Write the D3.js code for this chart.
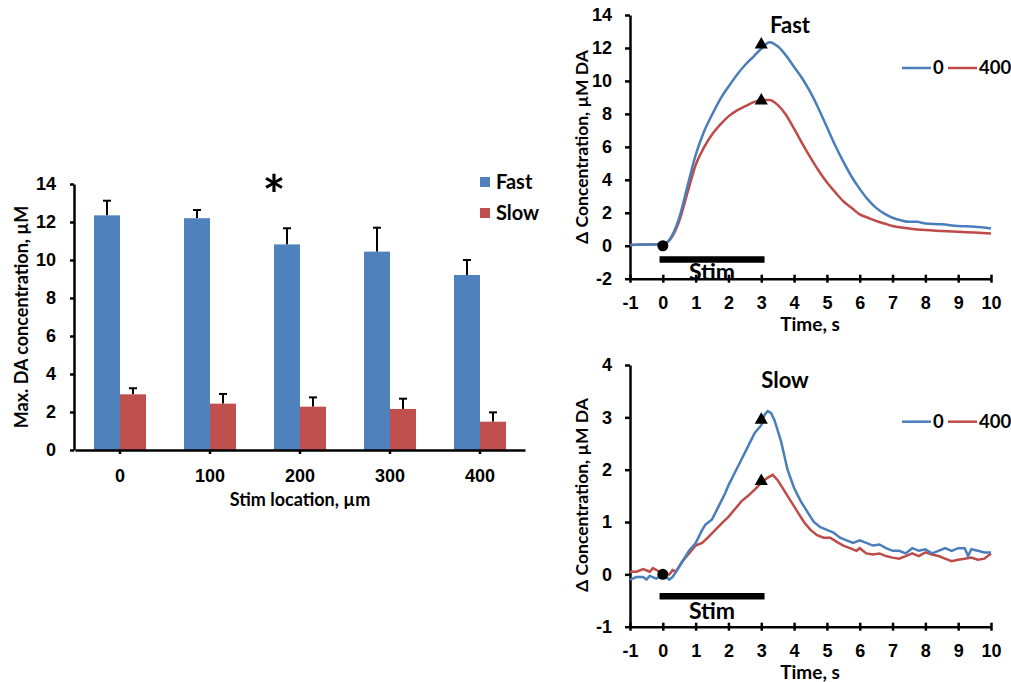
<!DOCTYPE html>
<html>
<head>
<meta charset="utf-8">
<script src="https://cdn.jsdelivr.net/npm/d3@7"></script>
<style>
  body { margin: 0; background: #fff; }
  svg { font-family: Lato, "Open Sans", sans-serif; font-weight: bold; }
  .axis path, .axis line { stroke: #000; stroke-width: 2.5; }
  .axis text { fill: #000; font-weight: bold; }
</style>
</head>
<body>
<svg id="chart" width="1011" height="682"></svg>
<script>
// ---- bar chart data ----
const locations = ["0", "100", "200", "300", "400"];
const fastMax = [12.35, 12.2, 10.82, 10.44, 9.21];
const fastErr = [0.77, 0.43, 0.85, 1.26, 0.79];
const slowMax = [2.93, 2.44, 2.28, 2.16, 1.49];
const slowErr = [0.32, 0.51, 0.49, 0.54, 0.49];
const barTicks = [0, 2, 4, 6, 8, 10, 12, 14];

// ---- Fast traces: [time s, delta uM] ----
const fastZero = [[-1,0.05],[-0.5,0.07],[0,0.1],[0.25,0.5],[0.5,1.7],[0.75,3.6],[1,5.5],[1.25,6.9],[1.5,7.95],
  [1.75,8.9],[2,9.65],[2.25,10.35],[2.5,10.95],[2.75,11.45],[3,11.95],[3.25,12.35],[3.5,12.1],[3.75,11.55],
  [4,10.85],[4.25,10.15],[4.5,9.3],[4.75,8.3],[5,7.2],[5.25,6.1],[5.5,5.1],[5.75,4.2],[6,3.45],[6.25,2.8],
  [6.5,2.3],[6.75,1.95],[7,1.7],[7.25,1.55],[7.5,1.45],[7.75,1.45],[8,1.35],[8.5,1.3],[9,1.2],[9.5,1.15],[10,1.05]];
const fastFar = [[-1,0.05],[-0.5,0.07],[0,0.1],[0.25,0.45],[0.5,1.5],[0.75,3.2],[1,4.9],[1.25,5.95],[1.5,6.75],
  [1.75,7.35],[2,7.85],[2.25,8.2],[2.5,8.45],[2.75,8.7],[3,8.85],[3.25,8.85],[3.5,8.55],[3.75,7.95],[4,7.1],
  [4.25,6.2],[4.5,5.35],[4.75,4.55],[5,3.85],[5.25,3.25],[5.5,2.7],[5.75,2.3],[6,1.9],[6.25,1.7],[6.5,1.5],
  [6.75,1.35],[7,1.2],[7.5,1.05],[8,0.95],[8.5,0.9],[9,0.85],[9.5,0.8],[10,0.75]];

// ---- Slow traces ----
const slowZero = [[-1,-0.1],[-0.8,-0.05],[-0.6,-0.05],[-0.5,-0.1],[-0.4,-0.03],[-0.2,-0.08],[0,0],[0.1,-0.05],
  [0.2,-0.1],[0.3,-0.05],[0.4,0.05],[0.6,0.25],[0.8,0.45],[1,0.6],[1.2,0.85],[1.3,0.95],[1.5,1.05],[1.7,1.3],
  [1.9,1.55],[2,1.7],[2.2,1.95],[2.4,2.2],[2.6,2.45],[2.8,2.7],[3,2.85],[3.1,3.05],[3.2,3.12],[3.3,3.08],
  [3.4,2.95],[3.6,2.55],[3.8,2.0],[4,1.65],[4.2,1.4],[4.4,1.2],[4.6,1.0],[4.8,0.9],[5,0.85],[5.2,0.8],
  [5.4,0.7],[5.6,0.65],[5.8,0.6],[6,0.65],[6.2,0.6],[6.4,0.55],[6.6,0.57],[6.8,0.5],[7,0.45],[7.2,0.45],
  [7.4,0.4],[7.6,0.5],[7.8,0.45],[8,0.48],[8.2,0.4],[8.4,0.45],[8.6,0.5],[8.8,0.45],[9,0.5],[9.2,0.5],
  [9.3,0.35],[9.4,0.48],[9.6,0.45],[9.8,0.42],[10,0.42]];
const slowFar = [[-1,0.05],[-0.8,0.05],[-0.6,0.1],[-0.4,0.05],[-0.3,0.12],[-0.1,0.05],[0,0.02],[0.2,0],
  [0.3,0.08],[0.4,0.05],[0.6,0.25],[0.8,0.4],[1,0.55],[1.2,0.6],[1.4,0.72],[1.6,0.85],[1.8,0.98],[2,1.1],
  [2.2,1.25],[2.4,1.4],[2.6,1.5],[2.8,1.62],[3,1.75],[3.2,1.85],[3.35,1.9],[3.5,1.8],[3.7,1.6],[3.9,1.4],
  [4.1,1.2],[4.3,1.0],[4.5,0.85],[4.7,0.75],[4.9,0.7],[5.1,0.7],[5.3,0.62],[5.5,0.55],[5.7,0.5],[5.9,0.45],
  [6,0.5],[6.2,0.4],[6.4,0.38],[6.6,0.4],[6.8,0.35],[7,0.32],[7.2,0.3],[7.4,0.35],[7.6,0.4],[7.8,0.35],
  [8,0.42],[8.2,0.38],[8.4,0.35],[8.6,0.3],[8.8,0.25],[9,0.28],[9.2,0.3],[9.4,0.32],[9.6,0.28],[9.8,0.3],[10,0.4]];

const timeTicks = [-1, 0, 1, 2, 3, 4, 5, 6, 7, 8, 9, 10];
const fastYTicks = [-2, 0, 2, 4, 6, 8, 10, 12, 14];
const slowYTicks = [-1, 0, 1, 2, 3, 4];
const fastPeaks = [12.2, 8.8];
const slowPeaks = [2.95, 1.78];
const seriesNames = ["0", "400"];

const BLUE = "#4F81BD", RED = "#C0504D";
const LBLUE = "#4A7EBB", LRED = "#BE4B48";
const plain = d => String(d); // hyphen minus like the original

const svg = d3.select("#chart");

// ================= bar chart =================
const x0 = d3.scaleBand().domain(locations).range([75, 525])
  .paddingInner(0.4222).paddingOuter(0.2111);
const x1 = d3.scaleBand().domain(["Fast", "Slow"]).range([0, x0.bandwidth()]);
const yb = d3.scaleLinear().domain([0, 14]).range([450, 184]);

const barG = svg.append("g");
const groups = barG.selectAll("g.grp").data(locations).join("g")
  .attr("transform", d => `translate(${x0(d)},0)`);

const barSeries = [
  { key: "Fast", vals: fastMax, errs: fastErr, color: BLUE },
  { key: "Slow", vals: slowMax, errs: slowErr, color: RED }
];

barSeries.forEach(s => {
  // error bars first so the bar covers the lower half
  groups.append("line")
    .attr("x1", (d, i) => x1(s.key) + x1.bandwidth() / 2)
    .attr("x2", (d, i) => x1(s.key) + x1.bandwidth() / 2)
    .attr("y1", (d, i) => yb(s.vals[i]))
    .attr("y2", (d, i) => yb(s.vals[i] + s.errs[i]))
    .attr("stroke", "#000").attr("stroke-width", 2);
  groups.append("line")
    .attr("x1", (d, i) => x1(s.key) + x1.bandwidth() / 2 - 4)
    .attr("x2", (d, i) => x1(s.key) + x1.bandwidth() / 2 + 4)
    .attr("y1", (d, i) => yb(s.vals[i] + s.errs[i]))
    .attr("y2", (d, i) => yb(s.vals[i] + s.errs[i]))
    .attr("stroke", "#000").attr("stroke-width", 2);
  groups.append("rect")
    .attr("x", x1(s.key))
    .attr("width", x1.bandwidth())
    .attr("y", (d, i) => yb(s.vals[i]))
    .attr("height", (d, i) => yb(0) - yb(s.vals[i]))
    .attr("fill", s.color);
});

barG.append("g").attr("class", "axis")
  .attr("transform", `translate(0,${yb(0)})`)
  .call(d3.axisBottom(x0).tickSizeInner(4).tickSizeOuter(0).tickPadding(15))
  .call(g => g.selectAll("text").style("font-size", "18px"));

barG.append("g").attr("class", "axis")
  .attr("transform", "translate(74,0)")
  .call(d3.axisLeft(yb).tickValues(barTicks).tickFormat(plain).tickSizeInner(4).tickSizeOuter(0).tickPadding(14))
  .call(g => g.selectAll("text").style("font-size", "18px"));

barG.append("text").attr("transform", "translate(28,317) rotate(-90)")
  .attr("text-anchor", "middle").style("font-size", "18px").text("Max. DA concentration, µM");
barG.append("text").attr("x", 300).attr("y", 506)
  .attr("text-anchor", "middle").style("font-size", "18px").text("Stim location, µm");

barG.append("text").attr("x", x0("200")).attr("y", 214)
  .attr("text-anchor", "middle").style("font-size", "54px").text("*");

barSeries.forEach((s, i) => {
  barG.append("rect").attr("x", 480).attr("y", 177 + i * 31)
    .attr("width", 10).attr("height", 10).attr("fill", s.color);
  barG.append("text").attr("x", 496).attr("y", 182 + i * 31)
    .attr("dy", "0.35em").style("font-size", "20px").text(s.key);
});

// ================= line charts =================
const xt = d3.scaleLinear().domain([-1, 10]).range([630, 991]);

function drawPanel(opts) {
  const y = d3.scaleLinear().domain(opts.domain).range(opts.range);
  const g = svg.append("g");
  const line = d3.line().x(d => xt(d[0])).y(d => y(d[1])).curve(opts.curve);

  g.append("g").attr("class", "axis")
    .attr("transform", `translate(0,${opts.range[0]})`)
    .call(d3.axisBottom(xt).tickValues(timeTicks).tickFormat(plain).tickSizeInner(4).tickSizeOuter(0).tickPadding(14))
    .call(a => a.selectAll(".tick line").attr("y1", -4))
    .call(a => a.selectAll("text").style("font-size", "18px"));
  g.append("g").attr("class", "axis")
    .attr("transform", "translate(630,0)")
    .call(d3.axisLeft(y).tickValues(opts.yTicks).tickFormat(plain).tickSizeInner(5).tickSizeOuter(0).tickPadding(13))
    .call(a => a.selectAll("text").style("font-size", "18px"));

  // stim bar
  g.append("line").attr("x1", xt(-0.1)).attr("x2", xt(3.1))
    .attr("y1", y(opts.stimY)).attr("y2", y(opts.stimY))
    .attr("stroke", "#000").attr("stroke-width", 6.5);
  g.append("text").attr("x", xt(1.5)).attr("y", opts.stimTextY)
    .attr("text-anchor", "middle").attr("dy", "0.35em").style("font-size", "23px").text("Stim");

  g.append("path").datum(opts.far).attr("d", line)
    .attr("fill", "none").attr("stroke", LRED).attr("stroke-width", 2.5);
  g.append("path").datum(opts.zero).attr("d", line)
    .attr("fill", "none").attr("stroke", LBLUE).attr("stroke-width", 2.5);

  g.append("circle").attr("cx", xt(0)).attr("cy", y(0)).attr("r", 5.5).attr("fill", "#000");
  g.selectAll("path.tri").data(opts.peaks).join("path").attr("class", "tri")
    .attr("d", d3.symbol(d3.symbolTriangle, 75))
    .attr("transform", d => `translate(${xt(3)},${y(d)})`)
    .attr("fill", "#000");

  g.append("text").attr("x", opts.titleX).attr("y", opts.titleY).attr("dy", "0.35em")
    .attr("text-anchor", "middle").style("font-size", "22px").text(opts.title);

  g.append("text").attr("transform", `translate(588,${opts.labelY}) rotate(-90)`)
    .attr("text-anchor", "middle").style("font-size", "17.5px").text("Δ Concentration, µM DA");
  g.append("text").attr("x", 810).attr("y", opts.range[0] + 52)
    .attr("text-anchor", "middle").style("font-size", "19px").text("Time, s");

  // legend
  const ly = opts.legendY;
  [LBLUE, LRED].forEach((c, i) => {
    const lx = i === 0 ? 902 : 948;
    g.append("line").attr("x1", lx).attr("x2", lx + 29).attr("y1", ly).attr("y2", ly)
      .attr("stroke", c).attr("stroke-width", 2.5);
    g.append("text").attr("x", lx + 31).attr("y", ly).attr("dy", "0.35em")
      .style("font-size", "18.5px").text(seriesNames[i]);
  });
}

drawPanel({
  domain: [-2, 14], range: [278.7, 15], yTicks: fastYTicks,
  zero: fastZero, far: fastFar, peaks: fastPeaks, curve: d3.curveMonotoneX,
  stimY: -0.83, stimTextY: 272, title: "Fast", titleX: 790, titleY: 25,
  labelY: 147, legendY: 68
});
drawPanel({
  domain: [-1, 4], range: [626.7, 365], yTicks: slowYTicks,
  zero: slowZero, far: slowFar, peaks: slowPeaks, curve: d3.curveLinear,
  stimY: -0.42, stimTextY: 611, title: "Slow", titleX: 785, titleY: 380,
  labelY: 495, legendY: 421.7
});
</script>
</body>
</html>
